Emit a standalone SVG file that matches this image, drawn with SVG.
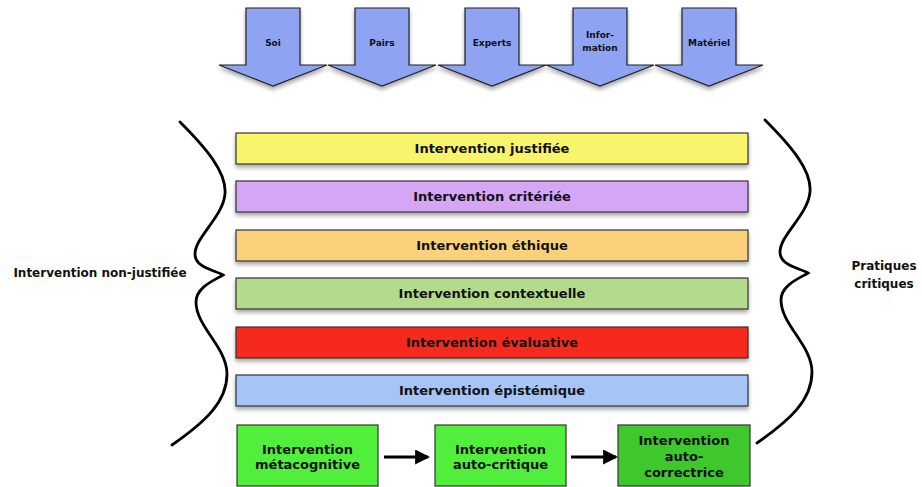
<svg xmlns="http://www.w3.org/2000/svg" width="922" height="487" viewBox="0 0 922 487">
<defs>
<filter id="sh" x="-10%" y="-30%" width="120%" height="180%">
<feDropShadow dx="0" dy="3" stdDeviation="2" flood-color="#000" flood-opacity="0.35"/>
</filter>
<marker id="ah" markerWidth="5" markerHeight="5" refX="4.3" refY="2.5" orient="auto" markerUnits="strokeWidth">
<path d="M0,0 L5,2.5 L0,5 z" fill="#000"/>
</marker>
<path id="brace" d="M765,120 C790,145 812,170 810,192 C808,215 780,235 780,252 C780,266 800,268 808,273 C800,278 781,285 781,300 C781,325 812,345 812,372 C812,400 790,420 757,443"/>
</defs>
<style>
text{font-family:"DejaVu Sans","Liberation Sans",sans-serif;font-weight:bold;fill:#111;text-anchor:middle}
.arr{fill:#8fa3f3;stroke:#222;stroke-width:1.2;filter:url(#sh)}
.al{font-size:9px}
.bar{stroke:#333;stroke-width:1.2;filter:url(#sh)}
.bt{font-size:13px}
.gb{stroke:#333;stroke-width:1.2}
.br{fill:none;stroke:#000;stroke-width:2.8;stroke-linecap:round}
.side{font-size:12px}
</style>
<rect width="922" height="487" fill="#fff"/>

<g id="arrow-soi"><polygon class="arr" points="246,8 300,8 300,65 327,65 273,86 219,65 246,65"/><text class="al" x="273" y="46">Soi</text></g>
<g id="arrow-pairs"><polygon class="arr" points="355,8 409,8 409,65 436,65 382,86 328,65 355,65"/><text class="al" x="382" y="46">Pairs</text></g>
<g id="arrow-experts"><polygon class="arr" points="465,8 519,8 519,65 546,65 492,86 438,65 465,65"/><text class="al" x="492" y="46">Experts</text></g>
<g id="arrow-information"><polygon class="arr" points="573,8 627,8 627,65 654,65 600,86 546,65 573,65"/><text class="al" x="600" y="38">Infor-</text><text class="al" x="600" y="51">mation</text></g>
<g id="arrow-materiel"><polygon class="arr" points="682,8 736,8 736,65 763,65 709,86 655,65 682,65"/><text class="al" x="709" y="46">Matériel</text></g>

<g id="bar-justifiee"><rect class="bar" x="236" y="133" width="512" height="31" fill="#f8f46c"/><text class="bt" x="492" y="153">Intervention justifiée</text></g>
<g id="bar-criteriee"><rect class="bar" x="236" y="181" width="512" height="31" fill="#d6a6f6"/><text class="bt" x="492" y="201">Intervention critériée</text></g>
<g id="bar-ethique"><rect class="bar" x="236" y="230" width="512" height="31" fill="#fbd17c"/><text class="bt" x="492" y="250">Intervention éthique</text></g>
<g id="bar-contextuelle"><rect class="bar" x="236" y="278" width="512" height="31" fill="#b4db8c"/><text class="bt" x="492" y="298">Intervention contextuelle</text></g>
<g id="bar-evaluative"><rect class="bar" x="236" y="327" width="512" height="31" fill="#f62c1e"/><text class="bt" x="492" y="347">Intervention évaluative</text></g>
<g id="bar-epistemique"><rect class="bar" x="236" y="375" width="512" height="31" fill="#a6c4f6"/><text class="bt" x="492" y="395">Intervention épistémique</text></g>

<g id="box-metacognitive"><rect class="gb" x="237" y="425" width="141" height="61" fill="#52ee3c"/><text class="bt" x="307.5" y="454">Intervention</text><text class="bt" x="307.5" y="469">métacognitive</text></g>
<g id="box-autocritique"><rect class="gb" x="435" y="425" width="131" height="61" fill="#52ee3c"/><text class="bt" x="500.5" y="454">Intervention</text><text class="bt" x="500.5" y="469">auto-critique</text></g>
<g id="box-autocorrectrice"><rect class="gb" x="618" y="425" width="132" height="61" fill="#3ec82c"/><text class="bt" x="684" y="445">Intervention</text><text class="bt" x="684" y="461">auto-</text><text class="bt" x="684" y="477">correctrice</text></g>

<g id="connectors">
<line x1="384" y1="457" x2="428" y2="457" stroke="#000" stroke-width="3" marker-end="url(#ah)"/>
<line x1="571" y1="457" x2="616" y2="457" stroke="#000" stroke-width="3" marker-end="url(#ah)"/>
</g>

<g id="brace-left"><use href="#brace" class="br" transform="translate(-585,2)"/><text class="side" x="100" y="277">Intervention non-justifiée</text></g>
<g id="brace-right"><use href="#brace" class="br"/><text class="side" x="884" y="270">Pratiques</text><text class="side" x="884" y="288">critiques</text></g>
</svg>
